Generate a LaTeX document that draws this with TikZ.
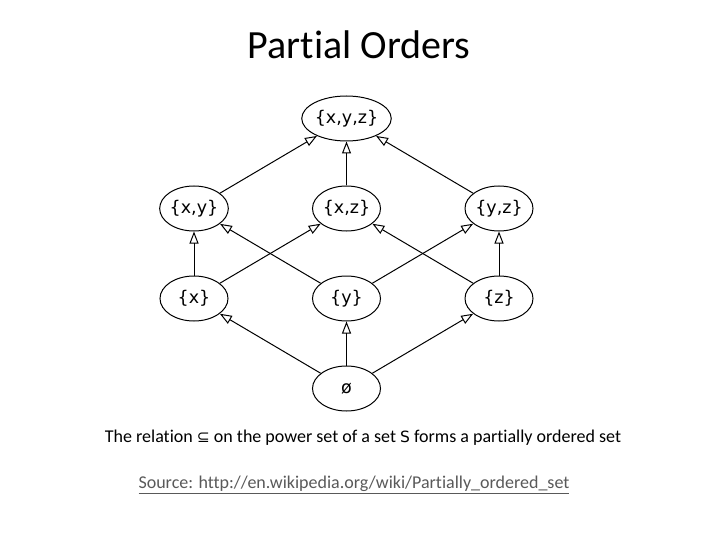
\documentclass[tikz,border=0pt]{standalone}
\usepackage{fontspec}
\setmainfont[Ligatures={NoCommon}]{Carlito}
\newfontfamily\nodefont{DejaVu Sans}
\usetikzlibrary{arrows.meta,shapes.geometric}
\begin{document}
\begin{tikzpicture}[x=1pt,y=-1pt,
  setnode/.style={draw, ellipse, line width=1pt, minimum width=68pt, minimum height=45pt, inner sep=0pt, text height=13pt, text depth=3.5pt, font=\nodefont\fontsize{17.5}{20}\selectfont},
  bignode/.style={setnode, minimum width=78pt},
  rel/.style={draw, line width=1pt, -{Triangle[open, length=12pt, width=9pt]}}]
\useasboundingbox (0,0) rectangle (720,540);
\node[font=\fontsize{40}{44}\selectfont] (title) at (359,45) {Partial Orders};
\node[bignode] (xyz) at (346.5,118.5) {\{x,y,z\}};
\node[setnode] (xy) at (194,208.5) {\{x,y\}};
\node[setnode] (xz) at (346.5,208.5) {\{x,z\}};
\node[setnode] (yz) at (499,208.5) {\{y,z\}};
\node[setnode] (x) at (194,298.5) {\{x\}};
\node[setnode] (y) at (346.5,298.5) {\{y\}};
\node[setnode] (z) at (499,298.5) {\{z\}};
\node[setnode] (e) at (346.5,388.5) {ø};
\draw[rel] (xy) -- (xyz);
\draw[rel] (xz) -- (xyz);
\draw[rel] (yz) -- (xyz);
\draw[rel] (x) -- (xy);
\draw[rel] (x) -- (xz);
\draw[rel] (y) -- (xy);
\draw[rel] (y) -- (yz);
\draw[rel] (z) -- (xz);
\draw[rel] (z) -- (yz);
\draw[rel] (e) -- (x);
\draw[rel] (e) -- (y);
\draw[rel] (e) -- (z);
\node[font=\fontsize{18}{20}\selectfont] (cap) at (363,438) {The relation {\nodefont\fontsize{15.5}{18}\selectfont ⊆} on the power set of a set {\nodefont\fontsize{15.5}{18}\selectfont S} forms a partially ordered set};
\node[font=\fontsize{18}{20}\selectfont, text=black!65] (src) at (354,485) {\underline{Source: http://en.wikipedia.org/wiki/Partially\_ordered\_set}};
\end{tikzpicture}
\end{document}
